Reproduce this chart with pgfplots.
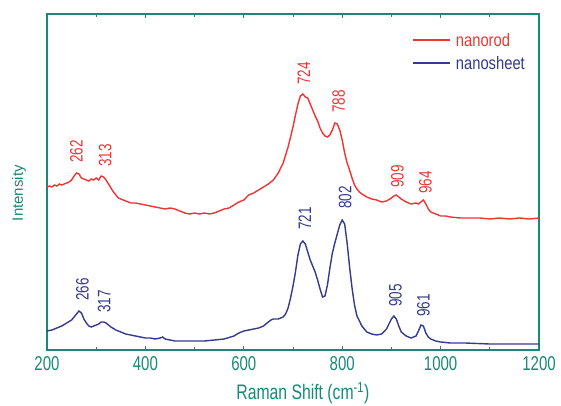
\documentclass[border=0pt]{standalone}
\usepackage{fontspec}
\setmainfont{Liberation Sans}[FakeStretch=0.75]
\newfontfamily\legfont{Liberation Sans}[FakeStretch=0.82]
\newfontfamily\intfont{Liberation Sans}
\usepackage{pgfplots}
\pgfplotsset{compat=1.18}
\definecolor{tealc}{RGB}{22,138,118}
\definecolor{redc}{RGB}{240,52,52}
\definecolor{bluec}{RGB}{52,58,140}
\begin{document}
\begin{tikzpicture}[x=1pt,y=1pt]
\path[use as bounding box] (-47,-55) rectangle (514,350);
\begin{axis}[
  at={(0pt,0pt)}, anchor=south west,
  scale only axis, width=492pt, height=336pt,
  xmin=200, xmax=1200, ymin=0, ymax=336,
  xtick={200,400,...,1200}, minor x tick num=1,
  ytick=\empty,
  tick align=inside,
  major tick length=4pt, minor tick length=3pt,
  every tick/.style={tealc, line width=1pt},
  axis line style={tealc, line width=1.4pt},
  /pgf/number format/assume math mode=true,
  /pgf/number format/1000 sep={},
  xticklabel style={font=\fontsize{20}{20}\selectfont, text=tealc, anchor=center, yshift=-14pt},
  xlabel={Raman Shift (cm\textsuperscript{-1})},
  xlabel style={font=\fontsize{21}{21}\selectfont, text=tealc, at={(axis description cs:0.52,-0.128)}, anchor=center},
  ylabel={Intensity},
  ylabel style={font=\intfont\fontsize{15}{15}\selectfont, text=tealc, at={(axis description cs:-0.057,0.467)}, anchor=center},
  legend style={draw=none, fill=none, at={(axis description cs:0.736,0.955)}, anchor=north west,
    font=\legfont\fontsize{18}{18}\selectfont, row sep=4.5pt, nodes={inner xsep=5pt}},
  legend cell align=left,
  legend image code/.code={\draw[#1, line width=1.6pt] (0pt,0.5pt) -- (37pt,0.5pt);},
]
\addplot[redc, line width=1.4pt] coordinates {
(200,163)(205,164)(210,163)(215,165)(220,164)(225,166)(230,165)(235,166)(240,167)(245,168)
(250,170)(255,174)(260,177)(265,176)(270,172)(275,171)(280,170)(285,169)(290,171)(295,170)
(300,172)(305,170)(310,174)(315,173)(320,170)(325,166)(330,162)(335,158)(340,155)(345,152)
(350,151)(360,149)(370,147)(380,147)(390,146)(400,145)(410,144)(420,143)(430,142)(440,141)
(450,142)(460,141)(470,139)(480,137)(490,136)(500,137)(510,136)(520,137)(530,136)(540,137)
(550,139)(560,141)(570,142)(580,145)(590,148)(600,150)(610,155)(620,157)(630,160)(640,163)
(650,166)(660,170)(670,177)(680,187)(690,203)(700,223)(705,235)(710,246)(715,254)(720,256)
(725,253)(730,252)(735,246)(740,240)(745,234)(750,229)(755,222)(760,217)(765,214)(770,213)
(775,215)(780,220)(785,227)(790,226)(795,220)(800,210)(805,197)(810,187)(815,180)(820,172)
(825,165)(830,161)(835,158)(840,156)(850,153)(860,151)(870,150)(880,148)(890,149)(900,152)
(905,154)(910,155)(915,153)(920,151)(930,148)(940,146)(950,147)(955,146)(960,148)(965,150)
(970,146)(975,141)(980,138)(990,136)(1000,134)(1010,134)(1020,133)(1040,132)(1060,132)(1080,132)
(1100,131)(1120,132)(1140,131)(1160,132)(1180,131)(1200,132)
};
\addlegendentry{\textcolor{redc}{nanorod}}
\addplot[bluec, line width=1.4pt] coordinates {
(200,19)(210,20)(220,22)(230,24)(240,27)(250,30)(255,33)(260,36)(265,39)(270,37)
(275,31)(280,27)(285,24)(290,23)(295,24)(300,25)(305,26)(310,28)(315,28)(320,27)
(325,25)(330,23)(340,20)(350,18)(360,16)(370,15)(380,14)(390,13)(400,12)(410,12)
(420,11)(430,12)(435,13)(440,11)(450,10)(460,9)(480,9)(500,9)(520,9)(540,10)
(560,11)(580,14)(590,17)(600,19)(610,20)(620,21)(630,22)(640,24)(650,28)(655,30)
(660,31)(670,31)(675,32)(680,33)(685,36)(690,42)(695,52)(700,64)(705,78)(710,95)
(715,106)(720,109)(725,106)(730,98)(735,90)(740,84)(745,78)(750,70)(755,61)(760,53)
(765,54)(770,65)(775,82)(780,97)(785,107)(790,116)(795,125)(800,130)(805,126)(810,107)
(815,83)(820,62)(825,45)(830,34)(840,24)(850,18)(860,16)(870,15)(880,16)(890,21)
(895,26)(900,31)(905,34)(910,31)(915,24)(920,18)(930,14)(940,12)(950,14)(955,19)
(960,25)(965,24)(970,17)(975,13)(980,11)(990,9)(1000,8)(1020,7)(1050,7)(1100,6)
(1150,6)(1200,6)
};
\addlegendentry{\textcolor{bluec}{nanosheet}}
\begin{scope}[every node/.style={rotate=90, anchor=west, inner sep=0pt, font=\fontsize{18}{18}\selectfont}]
\node[text=redc] at (axis cs:260,187) {262};
\node[text=redc] at (axis cs:318,183) {313};
\node[text=redc] at (axis cs:722,265) {724};
\node[text=redc] at (axis cs:793,237) {788};
\node[text=redc] at (axis cs:912,162) {909};
\node[text=redc] at (axis cs:969,156) {964};
\node[text=bluec] at (axis cs:272,49) {266};
\node[text=bluec] at (axis cs:316,37) {317};
\node[text=bluec] at (axis cs:724,120) {721};
\node[text=bluec] at (axis cs:806,141) {802};
\node[text=bluec] at (axis cs:908,43) {905};
\node[text=bluec] at (axis cs:965,33) {961};
\end{scope}
\end{axis}
\end{tikzpicture}
\end{document}
